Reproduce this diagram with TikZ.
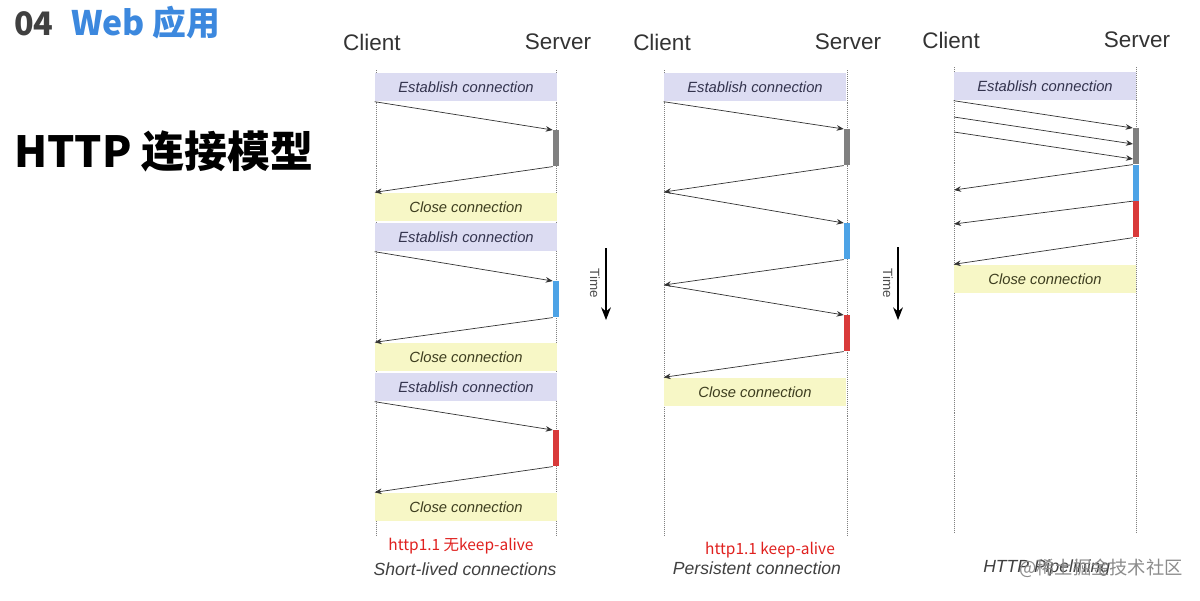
\documentclass[tikz,border=0pt]{standalone}
\usepackage{fontspec}
\setmainfont{Liberation Sans}
\newfontfamily\cjk{Noto Sans CJK SC}
\usetikzlibrary{arrows.meta}

\definecolor{estabfill}{HTML}{DCDCF2}
\definecolor{estabtext}{HTML}{33334D}
\definecolor{closefill}{HTML}{F7F7C6}
\definecolor{closetext}{HTML}{3D3D1F}
\definecolor{barblue}{HTML}{4DA3E6}
\definecolor{barred}{HTML}{D93A3A}
\definecolor{webblue}{HTML}{3C88DE}
\definecolor{notered}{HTML}{E0201E}

\begin{document}
\begin{tikzpicture}[x=0.025cm,y=-0.025cm,
	estab/.style={fill=estabfill, text=estabtext, minimum width=4.55cm, minimum height=0.72cm, inner sep=0pt, font=\itshape\fontsize{10.5}{12}\selectfont},
	closebox/.style={fill=closefill, text=closetext, minimum width=4.55cm, minimum height=0.72cm, inner sep=0pt, font=\itshape\fontsize{10.5}{12}\selectfont},
	bar/.style={minimum width=0.15cm, minimum height=0.9cm, inner sep=0pt, anchor=north},
	msg/.style={-{Stealth[length=5pt,width=4pt]}, line width=0.5pt, black!80},
	life/.style={densely dotted, gray, line width=0.4pt},
	who/.style={font=\fontsize{16}{18}\selectfont, text=black!80},
	caption/.style={font=\itshape\fontsize{12.5}{14}\selectfont, text=black!75},
	note/.style={font=\cjk\fontsize{11}{13}\selectfont, text=notered}]
	\fill[white] (0,0) rectangle (1200,600);
	% title
	\node[anchor=base west, inner sep=0pt, font=\cjk\bfseries\fontsize{23}{25}\selectfont, text=black!75] (num) at (14,35) {04};
	\node[anchor=base west, inner sep=0pt, font=\cjk\bfseries\fontsize{24}{26}\selectfont, text=webblue] (sec) at (71,35) {Web 应用};
	\node[anchor=base west, inner sep=0pt, font=\cjk\bfseries\fontsize{30.5}{34}\selectfont] (ttl) at (14,167) {HTTP 连接模型};
	% lifelines
	\foreach \x/\t/\b in {376/70/535, 556/70/535, 664/70/535, 847/70/535, 954/67/533, 1136/67/533} {
		\draw[life] (\x,\t) -- (\x,\b);
	}
	% short-lived
	\node[who] (cl1) at (372,42) {Client};
	\node[who] (sv1) at (558,42) {Server};
	\node[estab] (e11) at (466,87) {Establish connection};
	\node[bar, fill=gray] (b11) at (556,130) {};
	\node[closebox] (k11) at (466,207) {Close connection};
	\node[estab] (e12) at (466,237) {Establish connection};
	\node[bar, fill=barblue] (b12) at (556,281) {};
	\node[closebox] (k12) at (466,357) {Close connection};
	\node[estab] (e13) at (466,387) {Establish connection};
	\node[bar, fill=barred] (b13) at (556,430) {};
	\node[closebox] (k13) at (466,507) {Close connection};
	\draw[msg] (e11.south west) -- (b11.north west);
	\draw[msg] (b11.south west) -- (k11.north west);
	\draw[msg] (e12.south west) -- (b12.north west);
	\draw[msg] (b12.south west) -- (k12.north west);
	\draw[msg] (e13.south west) -- (b13.north west);
	\draw[msg] (b13.south west) -- (k13.north west);
	\node[note] (n1) at (461,546) {http1.1 无keep-alive};
	\node[caption] (l1) at (465,569) {Short-lived connections};
	% persistent
	\node[who] (cl2) at (662,42) {Client};
	\node[who] (sv2) at (848,42) {Server};
	\node[estab] (e21) at (755,87) {Establish connection};
	\node[bar, fill=gray] (b21) at (847,129) {};
	\coordinate (c21) at (664,192);
	\node[bar, fill=barblue] (b22) at (847,223) {};
	\coordinate (c22) at (664,285);
	\node[bar, fill=barred] (b23) at (847,315) {};
	\node[closebox] (k21) at (755,392) {Close connection};
	\draw[msg] (e21.south west) -- (b21.north west);
	\draw[msg] (b21.south west) -- (c21);
	\draw[msg] (c21) -- (b22.north west);
	\draw[msg] (b22.south west) -- (c22);
	\draw[msg] (c22) -- (b23.north west);
	\draw[msg] (b23.south west) -- (k21.north west);
	\node[note] (n2) at (770,550) {http1.1 keep-alive};
	\node[caption] (l2) at (757,568) {Persistent connection};
	% pipelining
	\node[who] (cl3) at (951,40) {Client};
	\node[who] (sv3) at (1137,40) {Server};
	\node[estab] (e31) at (1045,86) {Establish connection};
	\node[bar, fill=gray] (b31) at (1136,128) {};
	\node[bar, fill=barblue] (b32) at (b31.south) {};
	\node[bar, fill=barred] (b33) at (b32.south) {};
	\node[closebox] (k31) at (1045,279) {Close connection};
	\coordinate (c31) at (954,117);
	\coordinate (c32) at (954,132);
	\coordinate (s32) at (1133,144);
	\coordinate (s33) at (1133,159);
	\coordinate (r31) at (954,190);
	\coordinate (r32) at (954,224);
	\draw[msg] (e31.south west) -- (b31.north west);
	\draw[msg] (c31) -- (s32);
	\draw[msg] (c32) -- (s33);
	\draw[msg] (b31.south west) -- (r31);
	\draw[msg] (b32.south west) -- (r32);
	\draw[msg] (b33.south west) -- (k31.north west);
	\node[caption, anchor=west, inner sep=0pt] (l3) at (983,568) {HTTP Pipelining};
	\node[font=\cjk\fontsize{13}{15}\selectfont, text=black!45] (wm) at (1101,568) {@稀土掘金技术社区};
	% time
	\node[rotate=-90, font=\fontsize{9.5}{10}\selectfont, text=black!70] (t1) at (595,283) {Time};
	\coordinate (t1a) at (606,248);
	\coordinate (t1b) at (606,320);
	\draw[-{Stealth[length=9pt,width=7pt]}, line width=0.8pt] (t1a) -- (t1b);
	\node[rotate=-90, font=\fontsize{9.5}{10}\selectfont, text=black!70] (t2) at (888,283) {Time};
	\coordinate (t2a) at (898,247);
	\coordinate (t2b) at (898,320);
	\draw[-{Stealth[length=9pt,width=7pt]}, line width=0.8pt] (t2a) -- (t2b);
\end{tikzpicture}
\end{document}
